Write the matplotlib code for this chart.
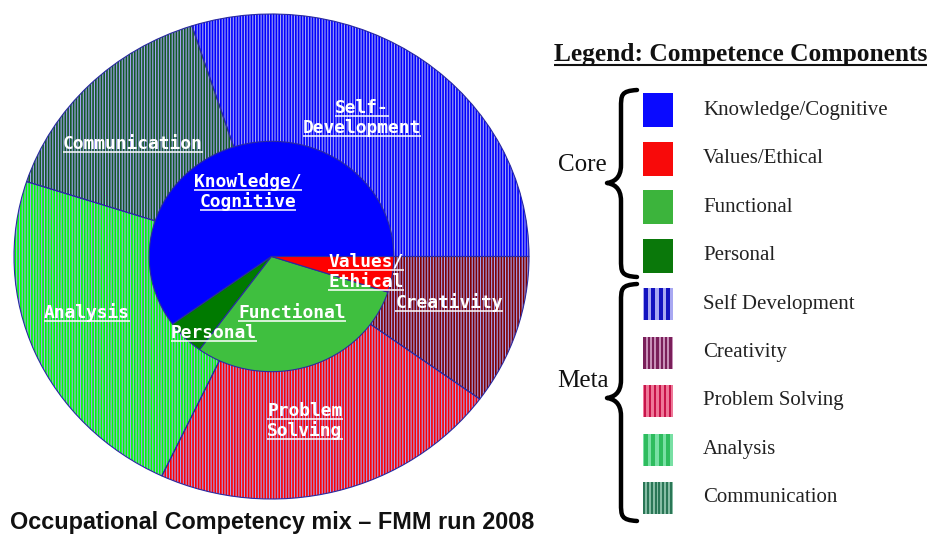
import matplotlib
matplotlib.use('Agg')
import matplotlib.pyplot as plt
from matplotlib.patches import Rectangle, PathPatch
from matplotlib.path import Path

W, H = 933, 534

# inner pie: core competences (percent)
core_names = ['Knowledge/Cognitive', 'Personal', 'Functional', 'Values/Ethical']
core_values = [60, 5, 30, 5]
core_colors = ['#0000ff', '#007a00', '#3fbf3f', '#ff0000']

# outer ring: meta competences (percent)
meta_names = ['Self-Development', 'Communication', 'Analysis', 'Problem Solving', 'Creativity']
meta_values = [30, 15, 23, 22, 10]
meta_colors = ['#0000ff', '#145a26', '#00ff00', '#ff0000', '#800000']
stripe_bg = '#a4a4f4'

# labels written on the pie (pixel centres)
pie_text = ['Self-\nDevelopment', 'Communication', 'Analysis', 'Problem\nSolving', 'Creativity',
            'Knowledge/\nCognitive', 'Values/\nEthical', 'Functional', 'Personal']
pie_text_xy = [(362, 118), (133, 144), (87, 313), (305, 421), (449, 303),
               (248, 192), (366, 272), (292, 313), (214, 333)]

# legend
legend_core = ['Knowledge/Cognitive', 'Values/Ethical', 'Functional', 'Personal']
legend_core_colors = ['#0a0aff', '#f80a0a', '#3cb43c', '#0a780a']
legend_meta = ['Self Development', 'Creativity', 'Problem Solving', 'Analysis', 'Communication']
legend_meta_dark = ['#1212c0', '#7a1f5a', '#c8144a', '#2ebc5e', '#2a7656']
legend_meta_light = ['#a8a8f2', '#c890b8', '#ee7898', '#78e0a4', '#86bca4']
legend_meta_stripes = [4, 7, 6, 4, 8]

plt.rcParams['hatch.linewidth'] = 1.2

fig = plt.figure(figsize=(W / 100, H / 100), dpi=100)

# pie axes spans exactly the outer ellipse
ax = fig.add_axes([14 / W, (H - 499) / H, 515 / W, 485 / H])
wedges, _ = ax.pie(meta_values, radius=1.0, startangle=0, counterclock=True,
                   colors=[stripe_bg] * len(meta_values))
for w, c in zip(wedges, meta_colors):
    w.set_hatch('||||||')
    w.set_edgecolor(c)
    w.set_linewidth(0)
ax.pie(meta_values, radius=1.0, startangle=0, counterclock=True,
       colors=['none'] * len(meta_values),
       wedgeprops=dict(edgecolor='#2a2aa0', linewidth=0.8))
ax.pie(core_values, radius=0.475, startangle=0, counterclock=True,
       colors=core_colors, wedgeprops=dict(edgecolor='#2a2aa0', linewidth=0.8))
ax.set_aspect('auto')
ax.set_xlim(-1, 1)
ax.set_ylim(-1, 1)
ax.axis('off')

# overlay in pixel coordinates
ov = fig.add_axes([0, 0, 1, 1])
ov.set_xlim(0, W)
ov.set_ylim(H, 0)
ov.axis('off')

underlined = []
for txt, (x, y) in zip(pie_text, pie_text_xy):
    lines = txt.split('\n')
    n = len(lines)
    for i, line in enumerate(lines):
        yy = y + (i - (n - 1) / 2) * 20
        t = ov.text(x, yy, line, ha='center', va='center', color='white',
                    family='DejaVu Sans Mono', weight='bold', fontsize=12.9)
        underlined.append((t, 'white', 1.1, 1.0))

ov.text(272.5, 522, 'Occupational Competency mix \u2013 FMM run 2008', ha='center', va='center',
        family='Liberation Sans', weight='bold', fontsize=16.8, color='#111111')

# legend
t = ov.text(740.5, 55, 'Legend: Competence Components', ha='center', va='center',
            family='Liberation Serif', weight='bold', fontsize=18.4, color='#111111')
underlined.append((t, '#111111', 1.5, 1.5))

row_y = [110 + 48.5 * i for i in range(9)]
sx, sw = 643, 30
for i, (name, col) in enumerate(zip(legend_core, legend_core_colors)):
    y = row_y[i]
    ov.add_patch(Rectangle((sx, y - 17), sw, 34, facecolor=col, edgecolor='none'))
    ov.text(703, y, name, ha='left', va='center', family='Liberation Serif',
            fontsize=15, color='#222222')
for j, name in enumerate(legend_meta):
    y = row_y[4 + j]
    ov.add_patch(Rectangle((sx, y - 16), sw, 32, facecolor=legend_meta_light[j], edgecolor='none'))
    n = legend_meta_stripes[j]
    per = sw / n
    for k in range(n):
        ov.add_patch(Rectangle((sx + k * per + per * 0.1, y - 16), per * 0.55, 32,
                               facecolor=legend_meta_dark[j], edgecolor='none'))
    ov.text(703, y, name, ha='left', va='center', family='Liberation Serif',
            fontsize=15, color='#222222')


def brace(x_end, x_spine, x_tip, y_top, y_mid, y_bot, r=18):
    verts = [(x_end, y_top),
             (x_spine, y_top + 1), (x_spine, y_top + 5), (x_spine, y_top + r),
             (x_spine, y_mid - r),
             (x_spine, y_mid - 4), (x_tip + 6, y_mid - 1), (x_tip, y_mid),
             (x_tip + 6, y_mid + 1), (x_spine, y_mid + 4), (x_spine, y_mid + r),
             (x_spine, y_bot - r),
             (x_spine, y_bot - 5), (x_spine, y_bot - 1), (x_end, y_bot)]
    codes = [Path.MOVETO, Path.CURVE4, Path.CURVE4, Path.CURVE4, Path.LINETO,
             Path.CURVE4, Path.CURVE4, Path.CURVE4, Path.CURVE4, Path.CURVE4, Path.CURVE4,
             Path.LINETO, Path.CURVE4, Path.CURVE4, Path.CURVE4]
    ov.add_patch(PathPatch(Path(verts, codes), facecolor='none', edgecolor='black',
                           linewidth=3.2, capstyle='round', joinstyle='round'))


brace(637, 621, 607, 90, 183, 277)
brace(637, 621, 607, 284, 398, 521)
ov.text(558, 165, 'Core', ha='left', va='center', family='Liberation Serif',
        fontsize=18, color='#111111')
ov.text(557, 381, 'Meta', ha='left', va='center', family='Liberation Serif',
        fontsize=18, color='#111111')

# underline texts
fig.canvas.draw()
renderer = fig.canvas.get_renderer()
inv = ov.transData.inverted()
for t, col, lw, off in underlined:
    bb = t.get_window_extent(renderer)
    x0, y0 = inv.transform((bb.x0, bb.y0))
    x1, _ = inv.transform((bb.x1, bb.y0))
    ov.plot([x0, x1], [y0 - off, y0 - off], color=col, lw=lw, solid_capstyle='butt')

fig.savefig('out.png', dpi=100)
